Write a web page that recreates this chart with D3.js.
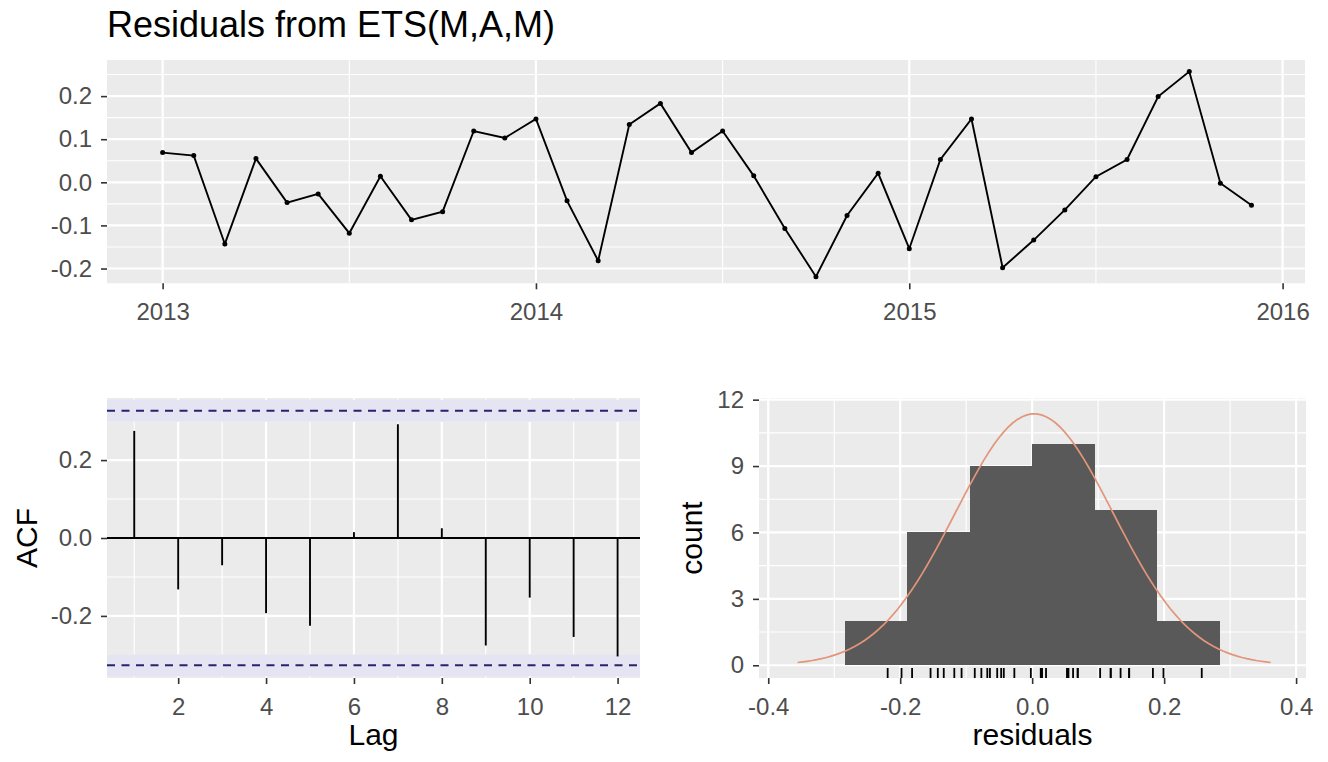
<!DOCTYPE html>
<html><head><meta charset="utf-8">
<script src="https://cdn.jsdelivr.net/npm/d3@7"></script>
<style>
body{margin:0;background:#fff}
text{font-family:"Liberation Sans",Arial,sans-serif}
</style>
</head><body>
<svg id="c" width="1328" height="762"></svg>
<script>
// ---------------- data ----------------
const months = ["2013-01","2013-02","2013-03","2013-04","2013-05","2013-06","2013-07","2013-08","2013-09","2013-10","2013-11","2013-12",
                "2014-01","2014-02","2014-03","2014-04","2014-05","2014-06","2014-07","2014-08","2014-09","2014-10","2014-11","2014-12",
                "2015-01","2015-02","2015-03","2015-04","2015-05","2015-06","2015-07","2015-08","2015-09","2015-10","2015-11","2015-12"];
const residuals = [0.069, 0.062, -0.143, 0.055, -0.047, -0.027, -0.118, 0.014, -0.087, -0.068, 0.119, 0.103,
                   0.147, -0.043, -0.182, 0.134, 0.183, 0.069, 0.119, 0.015, -0.107, -0.219, -0.077, 0.021,
                   -0.154, 0.053, 0.147, -0.198, -0.134, -0.064, 0.013, 0.053, 0.199, 0.257, -0.002, -0.053];
const lags = [1,2,3,4,5,6,7,8,9,10,11,12];
const acfValues = [0.275, -0.132, -0.070, -0.193, -0.225, 0.015, 0.292, 0.025, -0.276, -0.153, -0.254, -0.304];
const acfBound = 0.3267;
const binEdges = [-0.2835, -0.189, -0.0945, 0, 0.0945, 0.189, 0.2835];
const histCounts = [2, 6, 9, 10, 7, 2];

const topYTicks = [-0.2, -0.1, 0.0, 0.1, 0.2];
const topXTicks = [2013, 2014, 2015, 2016];
const acfYTicks = [-0.2, 0.0, 0.2];
const acfXTicks = [2, 4, 6, 8, 10, 12];
const histYTicks = [0, 3, 6, 9, 12];
const histXTicks = [-0.4, -0.2, 0.0, 0.2, 0.4];

const title = "Residuals from ETS(M,A,M)";

// ---------------- helpers ----------------
const svg = d3.select("#c");
const PANEL = "#EBEBEB", TICKTXT = "#4D4D4D", TICKLN = "#333333";
const f1 = d => d.toFixed(1);

function panel(x, y, xt, xm, yt, ym) {
  const [x0, x1] = x.range(), [y1, y0] = y.range();
  const g = svg.append("g");
  g.append("rect").attr("x", x0).attr("y", y0).attr("width", x1 - x0).attr("height", y1 - y0).attr("fill", PANEL);
  const inX = v => { const p = x(v); return p >= x0 && p <= x1; };
  const inY = v => { const p = y(v); return p >= y0 && p <= y1; };
  g.selectAll(".ym").data(ym.filter(inY)).join("line").attr("x1", x0).attr("x2", x1)
    .attr("y1", d => y(d)).attr("y2", d => y(d)).attr("stroke", "#fff").attr("stroke-width", 1.1);
  g.selectAll(".xm").data(xm.filter(inX)).join("line").attr("y1", y0).attr("y2", y1)
    .attr("x1", d => x(d)).attr("x2", d => x(d)).attr("stroke", "#fff").attr("stroke-width", 1.1);
  g.selectAll(".yM").data(yt).join("line").attr("x1", x0).attr("x2", x1)
    .attr("y1", d => y(d)).attr("y2", d => y(d)).attr("stroke", "#fff").attr("stroke-width", 2.2);
  g.selectAll(".xM").data(xt).join("line").attr("y1", y0).attr("y2", y1)
    .attr("x1", d => x(d)).attr("x2", d => x(d)).attr("stroke", "#fff").attr("stroke-width", 2.2);
}

function axes(x, y, xt, yt, xf, yf) {
  const [x0] = x.range(), [y1] = y.range();
  const ax = svg.append("g").attr("transform", `translate(0,${y1})`)
    .call(d3.axisBottom(x).tickValues(xt).tickFormat(xf).tickSize(6).tickPadding(14));
  const ay = svg.append("g").attr("transform", `translate(${x0},0)`)
    .call(d3.axisLeft(y).tickValues(yt).tickFormat(yf).tickSize(6).tickPadding(9));
  [ax, ay].forEach(a => {
    a.select(".domain").remove();
    a.selectAll("line").attr("stroke", TICKLN).attr("stroke-width", 1.6);
    a.selectAll("text").attr("fill", TICKTXT).style("font-size", "24px").style("font-family", '"Liberation Sans",Arial,sans-serif');
  });
}

// ---------------- top: residual time series ----------------
const tX = d3.scaleLinear().domain([2012.851, 2016.06]).range([107, 1305]);
const tY = d3.scaleLinear().domain([-0.2343, 0.2838]).range([283.3, 60]);
panel(tX, tY, topXTicks, [2012.5, 2013.5, 2014.5, 2015.5], topYTicks, [-0.25, -0.15, -0.05, 0.05, 0.15, 0.25]);
axes(tX, tY, topXTicks, topYTicks, d => d, f1);

const series = months.map((m, i) => {
  const [yy, mm] = m.split("-").map(Number);
  return { t: yy + (mm - 1) / 12, v: residuals[i] };
});
svg.append("path").datum(series)
  .attr("d", d3.line().x(d => tX(d.t)).y(d => tY(d.v)))
  .attr("fill", "none").attr("stroke", "#000").attr("stroke-width", 1.9);
svg.append("g").selectAll("circle").data(series).join("circle")
  .attr("cx", d => tX(d.t)).attr("cy", d => tY(d.v)).attr("r", 2.5).attr("fill", "#000");

svg.append("text").attr("x", 107).attr("y", 37).attr("fill", "#000")
  .style("font-size", "36px").text(title);

// ---------------- bottom-left: ACF ----------------
const aX = d3.scaleLinear().domain([0.38, 12.51]).range([107, 640]);
const aY = d3.scaleLinear().domain([-0.3594, 0.3594]).range([678, 398]);
panel(aX, aY, acfXTicks, [1, 3, 5, 7, 9, 11], acfYTicks, [-0.3, -0.1, 0.1, 0.3]);
axes(aX, aY, acfXTicks, acfYTicks, d => d, f1);

const clip = svg.append("clipPath").attr("id", "acfclip");
clip.append("rect").attr("x", 107).attr("y", 398).attr("width", 533).attr("height", 280);
const bandG = svg.append("g").attr("clip-path", "url(#acfclip)");
bandG.selectAll("rect").data([acfBound, -acfBound]).join("rect")
  .attr("x", 107).attr("width", 533).attr("y", d => aY(d) - 11).attr("height", 22)
  .attr("fill", "#E4E4F3");
svg.append("line").attr("x1", 107).attr("x2", 640).attr("y1", aY(0)).attr("y2", aY(0))
  .attr("stroke", "#000").attr("stroke-width", 2);
svg.append("g").selectAll("line").data(lags).join("line")
  .attr("x1", d => aX(d)).attr("x2", d => aX(d))
  .attr("y1", aY(0)).attr("y2", (d, i) => aY(acfValues[i]))
  .attr("stroke", "#000").attr("stroke-width", 1.9);
svg.append("g").selectAll("line").data([acfBound, -acfBound]).join("line")
  .attr("x1", 107).attr("x2", 640).attr("y1", d => aY(d)).attr("y2", d => aY(d))
  .attr("stroke", "#25256E").attr("stroke-width", 2.2).attr("stroke-dasharray", "8,6.5");

svg.append("text").attr("x", 373.5).attr("y", 745).attr("text-anchor", "middle")
  .style("font-size", "30px").attr("fill", "#000").text("Lag");
svg.append("text").attr("transform", "translate(37,538) rotate(-90)").attr("text-anchor", "middle")
  .style("font-size", "30px").attr("fill", "#000").text("ACF");

// ---------------- bottom-right: histogram ----------------
const hX = d3.scaleLinear().domain([-0.414, 0.415]).range([759, 1306]);
const hY = d3.scaleLinear().domain([-0.575, 12.075]).range([678, 398]);
panel(hX, hY, histXTicks, [-0.3, -0.1, 0.1, 0.3], histYTicks, [1.5, 4.5, 7.5, 10.5]);
axes(hX, hY, histXTicks, histYTicks, f1, d => d);

svg.append("g").attr("shape-rendering", "crispEdges").selectAll("rect").data(histCounts).join("rect")
  .attr("x", (d, i) => hX(binEdges[i]))
  .attr("width", (d, i) => hX(binEdges[i + 1]) - hX(binEdges[i]) + 0.6)
  .attr("y", d => hY(d)).attr("height", d => hY(0) - hY(d))
  .attr("fill", "#595959");

const n = residuals.length;
const mu = d3.mean(residuals), sd = d3.deviation(residuals);
const bw = binEdges[1] - binEdges[0];
const xs = d3.range(100).map(i => mu - 3 * sd + i * (6 * sd) / 99);
const dens = xs.map(x => ({ x, y: n * bw * Math.exp(-0.5 * ((x - mu) / sd) ** 2) / (sd * Math.sqrt(2 * Math.PI)) }));
svg.append("path").datum(dens)
  .attr("d", d3.line().x(d => hX(d.x)).y(d => hY(d.y)))
  .attr("fill", "none").attr("stroke", "#E3957A").attr("stroke-width", 1.7);

svg.append("g").selectAll("line").data(residuals).join("line")
  .attr("x1", d => hX(d)).attr("x2", d => hX(d)).attr("y1", 678).attr("y2", 668)
  .attr("stroke", "#000").attr("stroke-width", 1.8);

svg.append("text").attr("x", 1032.5).attr("y", 745).attr("text-anchor", "middle")
  .style("font-size", "30px").attr("fill", "#000").text("residuals");
svg.append("text").attr("transform", "translate(702,538) rotate(-90)").attr("text-anchor", "middle")
  .style("font-size", "30px").attr("fill", "#000").text("count");
</script>
</body></html>
